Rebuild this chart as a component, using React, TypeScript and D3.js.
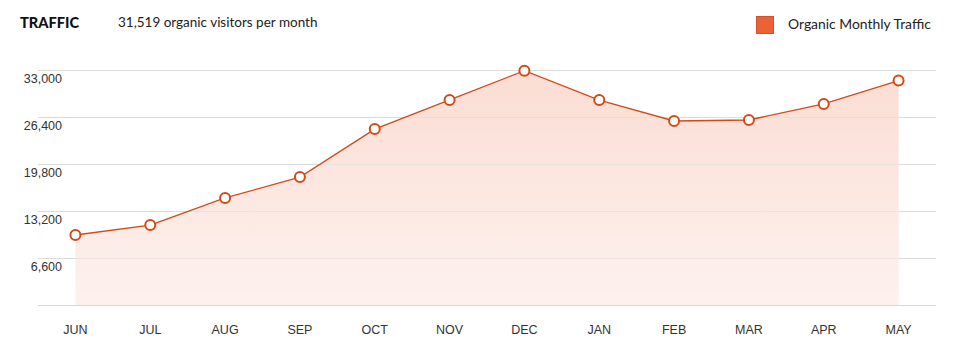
import * as d3 from "d3";

const months = ["JUN", "JUL", "AUG", "SEP", "OCT", "NOV", "DEC", "JAN", "FEB", "MAR", "APR", "MAY"];
const traffic = [9830, 11230, 15030, 17970, 24700, 28800, 32900, 28780, 25840, 25980, 28230, 31519];
const yTicks = [6600, 13200, 19800, 26400, 33000];

const W = 970;
const H = 352;
const margin = {top: 70, right: 34, bottom: 47, left: 38};

export default function App() {
    const x = d3.scaleBand().domain(months).range([margin.left, W - margin.right]).padding(0);
    const y = d3.scaleLinear().domain([0, 33000]).range([H - margin.bottom, margin.top]);
    const cx = (m: string) => (x(m) as number) + x.bandwidth() / 2;

    const pts = months.map((m, i) => ({m, v: traffic[i]}));
    const line = d3.line<any>().x(d => cx(d.m)).y(d => y(d.v));
    const area = d3.area<any>().x(d => cx(d.m)).y0(y(0)).y1(d => y(d.v));

    const tickFont = "'Liberation Sans', Arial, sans-serif";
    const headFont = "Lato, 'Noto Sans', sans-serif";

    return (
        <svg width={W} height={H} style={{position: "absolute", left: 0, top: 0, background: "#fff"}}>
            <defs>
                <linearGradient id="fillGrad" x1="0" y1="0" x2="0" y2="1">
                    <stop offset="0%" stopColor="#fbddd3" />
                    <stop offset="100%" stopColor="#fdf1ee" />
                </linearGradient>
            </defs>
            <text x={20} y={28} fontFamily={headFont} fontWeight={900} fontSize={14.6} fill="#111">TRAFFIC</text>
            <text x={118} y={27} fontFamily={headFont} fontSize={13.5} fill="#222">31,519 organic visitors per month</text>

            <rect x={756.5} y={16.5} width={17} height={17} fill="#ea6236" stroke="#d2502a" />
            <text x={788} y={29} fontFamily={headFont} fontSize={13.9} fill="#222">Organic Monthly Traffic</text>

            {[0, ...yTicks].map(t => (
                <line key={t} x1={margin.left} x2={W - margin.right} y1={Math.round(y(t)) + 0.5} y2={Math.round(y(t)) + 0.5}
                      stroke={t === 0 ? "#d4d4d4" : "#dcdcdc"} strokeWidth={1} />
            ))}
            <path d={area(pts) || ""} fill="url(#fillGrad)" />
            {[0, ...yTicks].map(t => (
                <line key={"g" + t} x1={margin.left} x2={W - margin.right} y1={Math.round(y(t)) + 0.5} y2={Math.round(y(t)) + 0.5}
                      stroke="#dcdcdc" strokeOpacity={0.5} strokeWidth={1} />
            ))}
            {yTicks.map(t => (
                <text key={t} x={62} y={y(t) + 13} textAnchor="end" fontFamily={tickFont} fontSize={12.5} fill="#333">
                    {d3.format(",")(t)}
                </text>
            ))}
            <path d={line(pts) || ""} fill="none" stroke="#d24a17" strokeWidth={1.3} />
            {pts.map(p => (
                <circle key={p.m} cx={cx(p.m)} cy={y(p.v)} r={5} fill="#fff" stroke="#d24a17" strokeWidth={2} />
            ))}
            {months.map(m => (
                <text key={m} x={cx(m)} y={334} textAnchor="middle" fontFamily={tickFont} fontSize={12.5} fill="#333">{m}</text>
            ))}
        </svg>
    );
}
